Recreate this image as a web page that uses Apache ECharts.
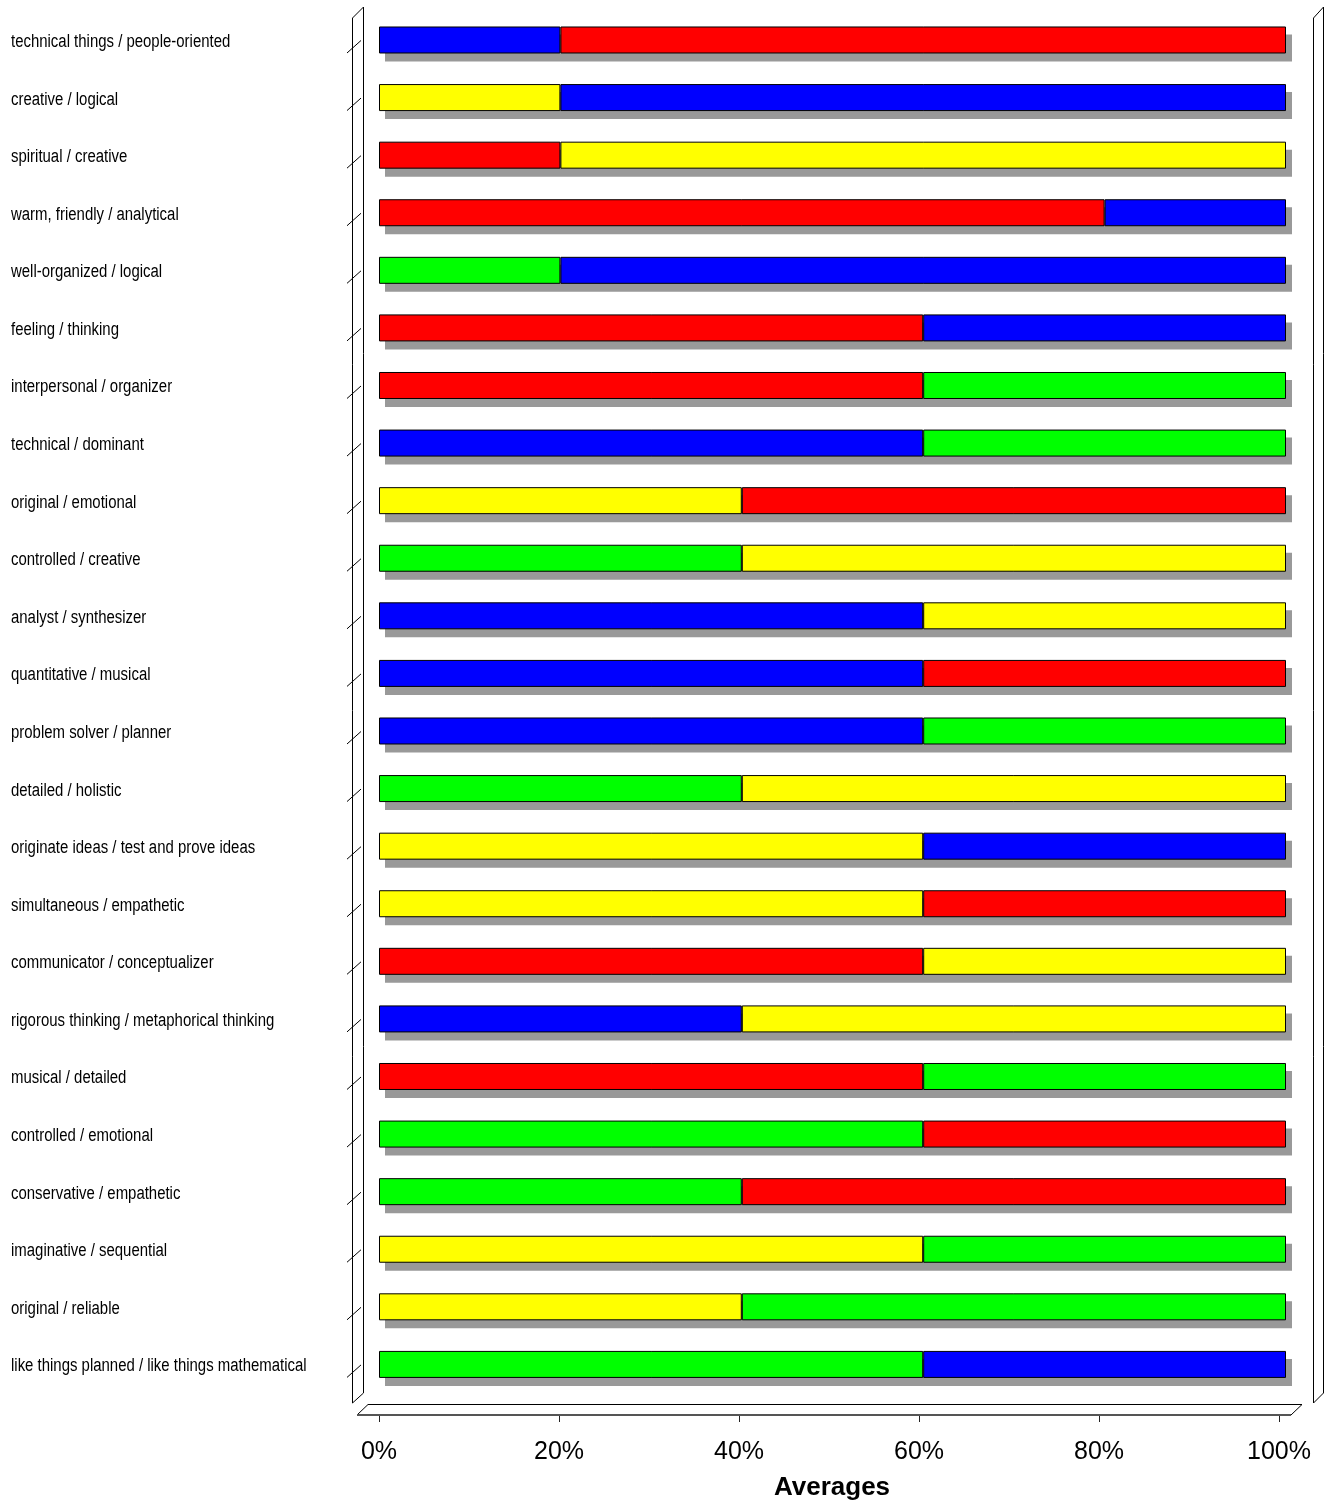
<!DOCTYPE html>
<html>
<head>
<meta charset="utf-8">
<title>Averages</title>
<script src="https://cdn.jsdelivr.net/npm/echarts@6/dist/echarts.min.js"></script>
<style>
  html, body { margin: 0; padding: 0; background: #fff; }
  #chart { width: 1330px; height: 1502px; }
</style>
</head>
<body>
<div id="chart"></div>
<script>
// trait pairs, top to bottom
var categories = [
  'technical things / people-oriented',
  'creative / logical',
  'spiritual / creative',
  'warm, friendly / analytical',
  'well-organized / logical',
  'feeling / thinking',
  'interpersonal / organizer',
  'technical / dominant',
  'original / emotional',
  'controlled / creative',
  'analyst / synthesizer',
  'quantitative / musical',
  'problem solver / planner',
  'detailed / holistic',
  'originate ideas / test and prove ideas',
  'simultaneous / empathetic',
  'communicator / conceptualizer',
  'rigorous thinking / metaphorical thinking',
  'musical / detailed',
  'controlled / emotional',
  'conservative / empathetic',
  'imaginative / sequential',
  'original / reliable',
  'like things planned / like things mathematical'
]
// share (%) for the first and the second word of each pair
var leftValues = [20, 20, 20, 80, 20, 60, 60, 60, 40, 40, 60, 60, 60, 40, 60, 60, 60, 40, 60, 60, 40, 60, 40, 60]
var rightValues = [80, 80, 80, 20, 80, 40, 40, 40, 60, 60, 40, 40, 40, 60, 40, 40, 40, 60, 40, 40, 60, 40, 60, 40]
// quadrant of each word: A logical, B organized, C interpersonal, D imaginative
var leftQuadrant = ['A', 'D', 'C', 'C', 'B', 'C', 'C', 'A', 'D', 'B', 'A', 'A', 'A', 'B', 'D', 'D', 'C', 'A', 'C', 'B', 'B', 'D', 'D', 'B']
var rightQuadrant = ['C', 'A', 'D', 'A', 'A', 'A', 'B', 'B', 'C', 'D', 'D', 'C', 'B', 'D', 'A', 'C', 'D', 'D', 'B', 'C', 'C', 'B', 'B', 'A']
var tickLabels = ['0%', '20%', '40%', '60%', '80%', '100%']

var quadrantColor = { A: '#0000ff', B: '#00ff00', C: '#ff0000', D: '#ffff00' }

// layout
var plotLeft = 379
var plotWidth = 907
var plotTop = 11.2
var plotHeight = 1382
var shadowDx = 6
var shadowDy = 8
var labelX = 11

function items (values, quads) {
  return values.map(function (v, i) {
    return { value: v, itemStyle: { color: quadrantColor[quads[i]] } }
  })
}

var totals = leftValues.map(function (v, i) { return v + rightValues[i] })

var chart = echarts.init(document.getElementById('chart'), null, { renderer: 'canvas' })

var frameStyle = { stroke: '#000', lineWidth: 1, fill: null }

var option = {
  animation: false,
  backgroundColor: '#fff',
  grid: [
    { left: plotLeft, top: plotTop, width: plotWidth, height: plotHeight },
    { left: plotLeft + shadowDx, top: plotTop + shadowDy, width: plotWidth, height: plotHeight },
    { left: 379, top: 1395, width: 900, height: 20 }
  ],
  xAxis: [
    { gridIndex: 0, type: 'value', min: 0, max: 100, show: false },
    { gridIndex: 1, type: 'value', min: 0, max: 100, show: false },
    {
      gridIndex: 2,
      type: 'value',
      min: 0,
      max: 100,
      interval: 20,
      position: 'bottom',
      axisLine: { show: false },
      splitLine: { show: false },
      axisTick: { show: true, length: 7, lineStyle: { color: '#222', width: 1 } },
      axisLabel: {
        margin: 25,
        fontFamily: 'Liberation Sans, Arial, sans-serif',
        fontSize: 25,
        color: '#000',
        formatter: function (v) { return tickLabels[Math.round(v / 20)] }
      },
      name: 'Averages',
      nameLocation: 'middle',
      nameGap: 60,
      nameTextStyle: {
        fontFamily: 'Liberation Sans, Arial, sans-serif',
        fontSize: 26,
        fontWeight: 'bold',
        color: '#000',
        padding: [0, 0, 0, 6]
      }
    }
  ],
  yAxis: [
    {
      gridIndex: 0,
      type: 'category',
      inverse: true,
      data: categories,
      axisLine: { show: false },
      axisTick: { show: false },
      axisLabel: { show: false }
    },
    { gridIndex: 1, type: 'category', inverse: true, data: categories, show: false },
    { gridIndex: 2, type: 'category', data: [''], show: false }
  ],
  series: [
    {
      name: 'shadow',
      type: 'bar',
      xAxisIndex: 1,
      yAxisIndex: 1,
      barWidth: 27,
      z: 1,
      silent: true,
      itemStyle: { color: '#999999' },
      data: totals
    },
    {
      name: 'first',
      type: 'bar',
      stack: 'pair',
      barWidth: 27,
      z: 3,
      itemStyle: { borderColor: '#000', borderWidth: 1 },
      data: items(leftValues, leftQuadrant)
    },
    {
      name: 'second',
      type: 'bar',
      stack: 'pair',
      barWidth: 27,
      z: 3,
      itemStyle: { borderColor: '#000', borderWidth: 1 },
      data: items(rightValues, rightQuadrant)
    }
  ]
}
chart.setOption(option)

// 3D frame: left wall, right wall, floor, and slanted category ticks
var graphics = [
  { type: 'polygon', shape: { points: [[352.5, 18], [363.5, 7], [363.5, 1393], [352.5, 1403]] }, style: frameStyle, z: 0 },
  { type: 'polygon', shape: { points: [[1313.5, 18], [1323.5, 7], [1323.5, 1393], [1313.5, 1403]] }, style: frameStyle, z: 0 },
  { type: 'polygon', shape: { points: [[368, 1404.5], [1302, 1404.5], [1291, 1415], [357, 1415]] }, style: frameStyle, z: 0 },
  { type: 'line', shape: { x1: 357, y1: 1415, x2: 1291, y2: 1415 }, style: { stroke: '#555', lineWidth: 2 }, z: 1 }
]
// category labels in a condensed face (narrow fonts are not installed, so squeeze horizontally)
categories.forEach(function (c, i) {
  var y = chart.convertToPixel({ yAxisIndex: 0 }, i)
  graphics.push({
    type: 'line',
    shape: { x1: 347, y1: y + 13, x2: 361, y2: y + 0.5 },
    style: { stroke: '#000', lineWidth: 1 },
    z: 1
  })
  graphics.push({
    type: 'text',
    x: labelX,
    y: y + 2,
    scaleX: 0.83,
    style: {
      text: c,
      fontFamily: 'Liberation Sans, Arial, sans-serif',
      fontSize: 18,
      fill: '#000',
      textAlign: 'left',
      textVerticalAlign: 'middle'
    },
    z: 2
  })
})
chart.setOption({ graphic: graphics })

window.onresize = function () {
  chart.resize()
}
</script>
</body>
</html>
